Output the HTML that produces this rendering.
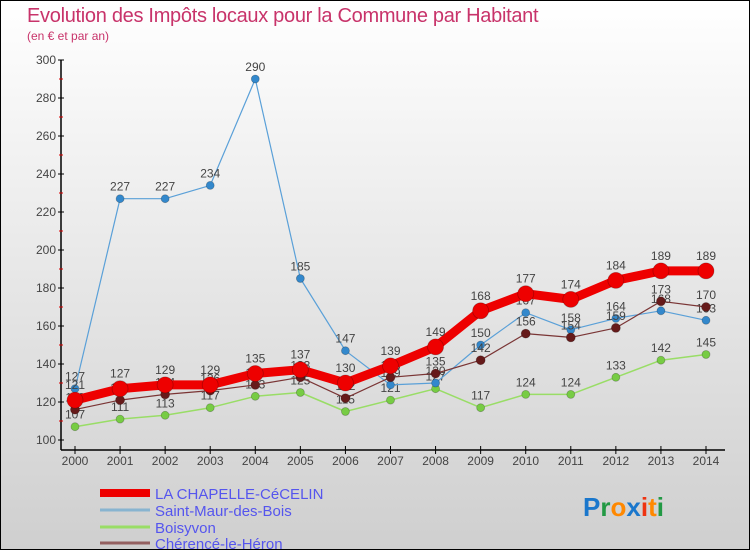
<!DOCTYPE html>
<html><head><meta charset="utf-8"><style>
body{margin:0}
#wrap{width:750px;height:550px;position:relative;overflow:hidden;background:linear-gradient(#ffffff,#cfcfcf);box-sizing:border-box;border:1px solid #000;font-family:"Liberation Sans",sans-serif}
.title{position:absolute;left:26px;top:4px;font-size:20px;color:#c8336a;letter-spacing:-0.3px}
.sub{position:absolute;left:26px;top:28px;font-size:12px;color:#c8336a}
</style></head><body>
<div id="wrap">
<div class="title">Evolution des Impôts locaux pour la Commune par Habitant</div>
<div class="sub">(en € et par an)</div>
<svg id="svg" width="750" height="550" style="position:absolute;left:-1px;top:-1px"></svg>
</div>
<script>
const years=[2000,2001,2002,2003,2004,2005,2006,2007,2008,2009,2010,2011,2012,2013,2014];
const chapelle=[121,127,129,129,135,137,130,139,149,168,177,174,184,189,189];
const saintMaur=[127,227,227,234,290,185,147,129,130,150,167,158,164,168,163];
const boisyvon=[107,111,113,117,123,125,115,121,127,117,124,124,133,142,145];
const cherence=[116,121,124,126,129,133,122,133,135,142,156,154,159,173,170];
const yTicks=[100,120,140,160,180,200,220,240,260,280,300];
const seriesNames=["LA CHAPELLE-CéCELIN","Saint-Maur-des-Bois","Boisyvon","Chérencé-le-Héron"];

const NS="http://www.w3.org/2000/svg";
const svg=document.getElementById('svg');
function x(i){return 75+i*(706-75)/(years.length-1);}
function y(v){return 440-(v-100)*1.9;}
function el(t,a,p){const e=document.createElementNS(NS,t);for(const k in a)e.setAttribute(k,a[k]);(p||svg).appendChild(e);return e;}

const axes=el('g',{});


el('line',{x1:61,y1:60,x2:61,y2:450,stroke:'#000','stroke-width':1.5},axes);
el('line',{x1:61,y1:450,x2:725,y2:450,stroke:'#000','stroke-width':1.5},axes);
yTicks.forEach(v=>{
  el('line',{x1:58,y1:y(v),x2:64,y2:y(v),stroke:'#000'},axes);
  if(v<300) el('line',{x1:59,y1:y(v+10),x2:63,y2:y(v+10),stroke:'#d00'},axes);
  const t=el('text',{x:56,y:y(v)+4,'text-anchor':'end','font-size':12,fill:'#444'},axes);
  t.textContent=v;
  
  
});
years.forEach((yr,i)=>{
  el('line',{x1:x(i),y1:446,x2:x(i),y2:454,stroke:'#000'},axes);
  const t=el('text',{x:x(i),y:465,'text-anchor':'middle','font-size':12,fill:'#444'},axes);
  t.textContent=yr;
  
  
});

function series(data,color,w,r,name,dot){
  const g=el('g',{});
  
  
  el('polyline',{points:data.map((v,i)=>x(i)+','+y(v)).join(' '),fill:'none',stroke:color,'stroke-width':w,'stroke-linejoin':'round'},g);
  data.forEach((v,i)=>{
    const c=el('circle',{cx:x(i),cy:y(v),r:r,fill:dot,stroke:'rgba(0,0,0,0.25)','stroke-width':0.8},g);
    
    
    const t=el('text',{x:x(i),y:y(v)-8-(r>5?3:0),'text-anchor':'middle','font-size':12,fill:'#444'},g);
    t.textContent=v;
    
    
  });
}
series(boisyvon,'#99dd66',1.5,4,'series-boisyvon','#77cc44');
series(saintMaur,'#5aa0d8',1.2,4,'series-saint-maur','#3388cc');
series(cherence,'#7a3535',1.2,4.5,'series-cherence','#661a1a');
series(chapelle,'#ee0000',9,8,'series-chapelle','#ee0000');

const lg=el('g',{});


const lc=['#ee0000','#88b4d0','#99dd66','#946060'],lw=[8,3,3,3],ly=[493,510,527,543];
seriesNames.forEach((n,i)=>{
  el('line',{x1:100,y1:ly[i],x2:150,y2:ly[i],stroke:lc[i],'stroke-width':lw[i]},lg);
  const t=el('text',{x:155,y:ly[i]+6,'font-size':15,fill:'#5555ee'},lg);
  t.textContent=n;
  
  
});
const logo=el('text',{x:583,y:516,'font-size':26,'font-weight':'bold'});


[['P','#1a77cc'],['r','#229944'],['o','#ff8800'],['x','#1a77cc'],['i','#ee3311'],['t','#ff8800'],['i','#229944']].forEach(([c,f])=>{const s=el('tspan',{fill:f},logo);s.textContent=c;});
</script>
</body></html>
